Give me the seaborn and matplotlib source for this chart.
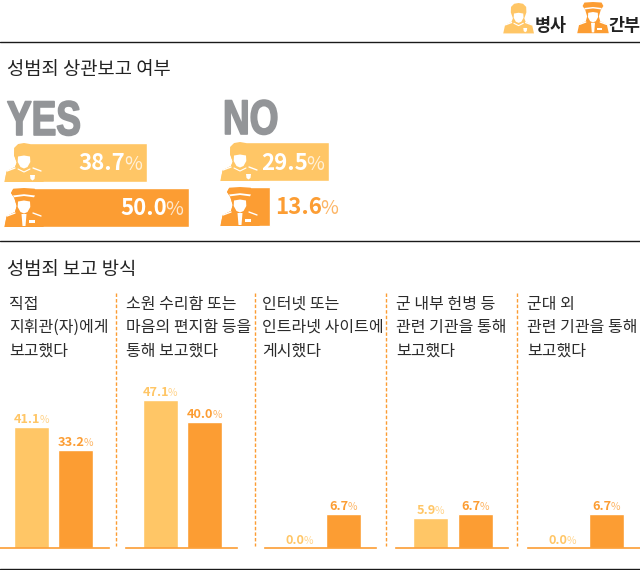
import matplotlib
matplotlib.use("Agg")
import matplotlib.pyplot as plt
from matplotlib.patches import Polygon, Rectangle
from matplotlib.patheffects import AbstractPathEffect
from matplotlib.transforms import Affine2D
import pandas as pd
import seaborn as sns

LIGHT = "#FFC666"
DARK = "#FC9D33"
GRAY = "#939598"
INK = "#2b2b2b"
KR = ["Noto Sans CJK KR", "DejaVu Sans"]

groups = ["병사", "간부"]
yes_values = [38.7, 50.0]
no_values = [29.5, 13.6]
panel_titles = [
    "직접\n지휘관(자)에게\n보고했다",
    "소원 수리함 또는\n마음의 편지함 등을\n통해 보고했다",
    "인터넷 또는\n인트라넷 사이트에\n게시했다",
    "군 내부 헌병 등\n관련 기관을 통해\n보고했다",
    "군대 외\n관련 기관을 통해\n보고했다",
]
soldier_values = [41.1, 47.1, 0.0, 5.9, 0.0]
officer_values = [33.2, 40.0, 6.7, 6.7, 6.7]

W, H = 640, 570
sns.set_theme(style="white")
plt.rcParams["font.family"] = KR
fig = plt.figure(figsize=(W / 100, H / 100), dpi=100, facecolor="white")
overlay = fig.add_axes([0, 0, 1, 1], zorder=5)
overlay.set_xlim(0, W)
overlay.set_ylim(H, 0)
overlay.axis("off")
overlay.patch.set_alpha(0)
renderer = fig.canvas.get_renderer()


class Squeeze(AbstractPathEffect):
    """Narrow a text horizontally about x (pixels) and thicken it a little."""

    def __init__(self, x, sx, stroke):
        super().__init__()
        self.x, self.sx, self.stroke = x, sx, stroke

    def draw_path(self, renderer, gc, tpath, affine, rgbFace=None):
        t = affine + Affine2D().translate(-self.x, 0).scale(self.sx, 1).translate(self.x, 0)
        gc0 = renderer.new_gc()
        gc0.copy_properties(gc)
        gc0.set_linewidth(self.stroke)
        gc0.set_foreground(rgbFace)
        renderer.draw_path(gc0, tpath, t, rgbFace)
        gc0.restore()


def px_axes(x0, x1, top, bottom):
    ax = fig.add_axes([x0 / W, 1 - bottom / H, (x1 - x0) / W, (bottom - top) / H])
    ax.patch.set_alpha(0)
    return ax


def to_px(ax, x, y):
    dx, dy = ax.transData.transform((x, y))
    return dx, H - dy


def two_part(x, y, num, color, big, small, anchor, gap):
    a = overlay.text(0, y, num, fontsize=big, fontweight="bold", color=color,
                     family=KR, ha="left", va="baseline")
    b = overlay.text(0, y, "%", fontsize=small, color=color, alpha=0.75,
                     family=KR, ha="left", va="baseline")
    wa = a.get_window_extent(renderer).width
    wb = b.get_window_extent(renderer).width
    total = wa + wb + gap
    left = {"left": x, "right": x - total, "center": x - total / 2}[anchor]
    a.set_x(left)
    b.set_x(left + wa + gap)


OUTLINE = {
    False: [(0.3, 39), (2.7, 28), (11, 24), (12.7, 19.6), (10, 12), (10.3, 5), (14.3, 1), (20, 0)],
    True: [(0.3, 39), (2.7, 28), (11, 24), (12.7, 18), (10.3, 10), (7, 5), (9.3, 0.7), (20, 0)],
}
FACE = [(14, 13.5), (20, 12.5), (26, 13.5), (26.3, 19), (23.5, 24), (20, 25.5), (16.5, 24), (13.7, 19)]


def icon(x0, y0, s, color, officer, carve=False):
    pts = OUTLINE[officer]
    P = lambda p: (x0 + p[0] * s, y0 + p[1] * s)
    poly = lambda q, c: overlay.add_patch(Polygon([P(p) for p in q], fc=c, ec="none"))
    if carve:
        poly([(-1.5, -1.5), (20, -1.5)] + pts[::-1][1:] + [(-1.5, 41)], "white")
    poly(pts + [(40 - x, y) for x, y in pts[::-1]], color)
    poly(FACE, "white")
    if officer:
        poly([(9, 7.5), (20, 6.2), (31, 7.5), (30, 9.3), (20, 8), (10, 9.3)], "white")
        poly([(17.5, 26), (22.5, 26), (21.5, 38), (18.5, 38)], "white")
        overlay.add_patch(Rectangle(P((25, 32)), 6 * s, 3 * s, fc="white", ec="none"))
    else:
        poly([(26, 32), (31, 32), (30.5, 36), (28.5, 37.5), (26.5, 36)], "white")
        overlay.plot(*zip(P((14, 26)), P((20, 29)), P((26, 26))), color="white", lw=0.8)
    for a, b in [((3, 28), (11, 25)), ((29, 25), (37, 28))]:
        overlay.plot(*zip(P(a), P(b)), color="white", lw=1.0, solid_capstyle="round")


def report_bars(values, x0, top, word, word_y, sx):
    ax = px_axes(x0, x0 + 190, top - 3.0, top + 87.0)
    df = pd.DataFrame({"group": groups, "value": values})
    sns.barplot(data=df, y="group", x="value", hue="group", order=groups, hue_order=groups,
                palette=[LIGHT, DARK], orient="h", width=39 / 45, saturation=1, legend=False, ax=ax)
    ax.set_xlim(0, 190 / 3.69)
    ax.set_ylim(1.5, -0.5)
    ax.axis("off")
    wx = x0 + 3
    overlay.text(wx, word_y, word, fontsize=35, fontweight="bold", color=GRAY,
                 family=["Liberation Sans", "DejaVu Sans"], ha="left", va="baseline",
                 path_effects=[Squeeze(wx, sx, 1.2)])
    for i, (v, c) in enumerate(zip(values, [LIGHT, DARK])):
        xr, yc = to_px(ax, v, i)
        if v * 3.69 > 60:
            two_part(xr - 5, yc + 8, f"{v:.1f}", "white", 16, 14, "right", -1.5)
        else:
            two_part(xr + 5, yc + 8, f"{v:.1f}", c, 16, 14, "left", -1.5)
        icon(x0, yc - 19.5, 1.0, c, i == 1, carve=True)


report_bars(yes_values, 4, 143, "YES", 135, 0.76)
report_bars(no_values, 220, 142, "NO", 134, 0.76)

panel_spans = [(0, 109), (126, 237), (265, 376), (396, 508), (528, 640)]
bar_centers = [(31.5, 75.5), (160, 204.5), (299, 343), (430.5, 475), (562, 606.5)]
panel_scale = [2.95, 3.15, 5.07, 5.07, 5.07]
text_x = [9, 126, 262, 396, 527]
BASE, TOPY = 548, 290
for i, ((a, b), (c0, c1), sc) in enumerate(zip(panel_spans, bar_centers, panel_scale)):
    ax = px_axes(a, b, TOPY, BASE)
    d = c1 - c0
    df = pd.DataFrame({"group": groups, "value": [soldier_values[i], officer_values[i]]})
    sns.barplot(data=df, x="group", y="value", hue="group", order=groups, hue_order=groups,
                palette=[LIGHT, DARK], width=35 / d, saturation=1, legend=False, ax=ax)
    ax.set_xlim((a - c0) / d, (b - c0) / d)
    ax.set_ylim(0, (BASE - TOPY) / sc)
    ax.set_xticks([])
    ax.set_yticks([])
    ax.set_xlabel("")
    ax.set_ylabel("")
    sns.despine(ax=ax, left=True)
    ax.spines["bottom"].set_color(DARK)
    ax.spines["bottom"].set_linewidth(1.2)
    for j, (v, col) in enumerate(zip(df["value"], [LIGHT, DARK])):
        x, y = to_px(ax, j, v)
        two_part(x, y - 4, f"{v:.1f}", col, 9.2, 7.5, "center", -1)
    overlay.text(text_x[i], 296, panel_titles[i], fontsize=11.5, color=INK, family=KR,
                 ha="left", va="top", linespacing=1.47, clip_on=False)

for x in [116.3, 254.5, 386, 517]:
    overlay.plot([x, x], [293, 546], color=DARK, lw=1.0, ls=(0, (2.5, 1.5)))
for y in [42.3, 241.3, 569.2]:
    overlay.plot([0, W], [y, y], color="#1a1a1a", lw=1.0)

overlay.text(7, 70, "성범죄 상관보고 여부", fontsize=13.5, fontweight="medium", color="#222222", family=KR, ha="left", va="center")
overlay.text(7, 270, "성범죄 보고 방식", fontsize=13.5, fontweight="medium", color="#222222", family=KR, ha="left", va="center")

icon(503, 3, 0.78, LIGHT, False)
icon(577, 2, 0.8, DARK, True)
overlay.text(535, 26, groups[0], fontsize=12.5, fontweight="bold", color="#222222", family=KR, ha="left", va="center")
overlay.text(608, 26, groups[1], fontsize=12.5, fontweight="bold", color="#222222", family=KR, ha="left", va="center")

fig.savefig("out.png", dpi=100, facecolor="white")
